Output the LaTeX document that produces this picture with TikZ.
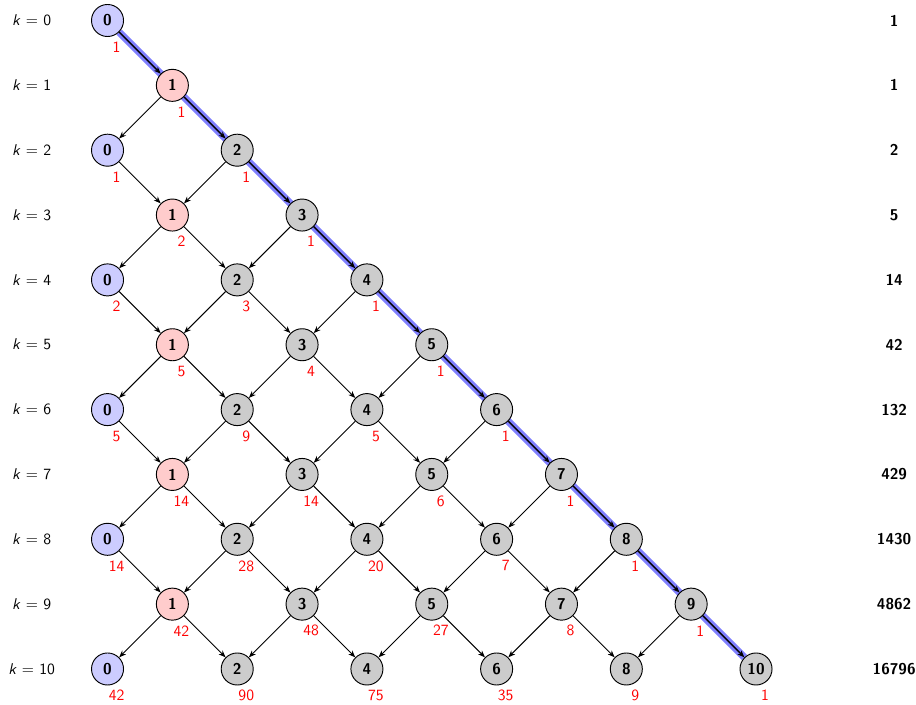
\documentclass[tikz,border=0pt]{standalone}
\usetikzlibrary{arrows.meta,backgrounds}

\tikzset{
  vert/.style={circle,draw,semithick,minimum size=20.5pt,inner sep=0pt,
    font=\sffamily\bfseries},
  count/.style={text=red,inner sep=0pt,font=\sffamily},
  rowlab/.style={font=\sffamily},
  total/.style={font=\sffamily\bfseries},
  edge/.style={-{Stealth[length=4.5pt,width=3.5pt]},line width=0.6pt},
  band/.style={blue!50,line width=4.6pt},
}

\begin{document}
\begin{tikzpicture}[x=41.5pt,y=41.5pt]
  \useasboundingbox (-1.658,-10.555) rectangle (12.467,0.316);
  % lattice points with their path counts
  \foreach \k/\n/\c in {0/0/1, 1/1/1, 2/0/1, 2/2/1, 3/1/2, 3/3/1,
      4/0/2, 4/2/3, 4/4/1, 5/1/5, 5/3/4, 5/5/1,
      6/0/5, 6/2/9, 6/4/5, 6/6/1, 7/1/14, 7/3/14, 7/5/6, 7/7/1,
      8/0/14, 8/2/28, 8/4/20, 8/6/7, 8/8/1,
      9/1/42, 9/3/48, 9/5/27, 9/7/8, 9/9/1,
      10/0/42, 10/2/90, 10/4/75, 10/6/35, 10/8/9, 10/10/1} {
    \ifnum\n=0 \def\col{blue!20}\else
      \ifnum\n=1 \def\col{red!20}\else \def\col{gray!40}\fi\fi
    \node[vert,fill=\col] (v\k-\n) at (\n,-\k) {\n};
    \node[count] (c\k-\n) at ([shift={(0.14,-0.41)}]v\k-\n) {\c};
  }
  % steps down the lattice
  \foreach \k [evaluate=\k as \kk using int(\k+1)] in {0,...,9} {
    \foreach \n [evaluate=\n as \up using int(\n+1),
                 evaluate=\n as \dn using int(\n-1)] in {0,...,\k} {
      \pgfmathtruncatemacro\p{mod(\k+\n,2)}
      \ifnum\p=0
        \ifnum\n<\k \draw[edge] (v\k-\n) -- (v\kk-\up); \fi
        \ifnum\n>0 \draw[edge] (v\k-\n) -- (v\kk-\dn); \fi
      \fi
    }
  }
  % highlighted diagonal
  \begin{scope}[on background layer]
    \draw[band] (v0-0) -- (v10-10);
  \end{scope}
  \foreach \k [evaluate=\k as \kk using int(\k+1)] in {0,...,9}
    \draw[edge,line width=0.9pt] (v\k-\k) -- (v\kk-\kk);
  % row labels and totals
  \foreach \k/\t in {0/1, 1/1, 2/2, 3/5, 4/14, 5/42, 6/132, 7/429,
      8/1430, 9/4862, 10/16796} {
    \node[rowlab] (k\k) at (-1.17,-\k) {\textit{k} = \k};
    \node[total] (t\k) at (12.13,-\k) {\t};
  }
\end{tikzpicture}
\end{document}
